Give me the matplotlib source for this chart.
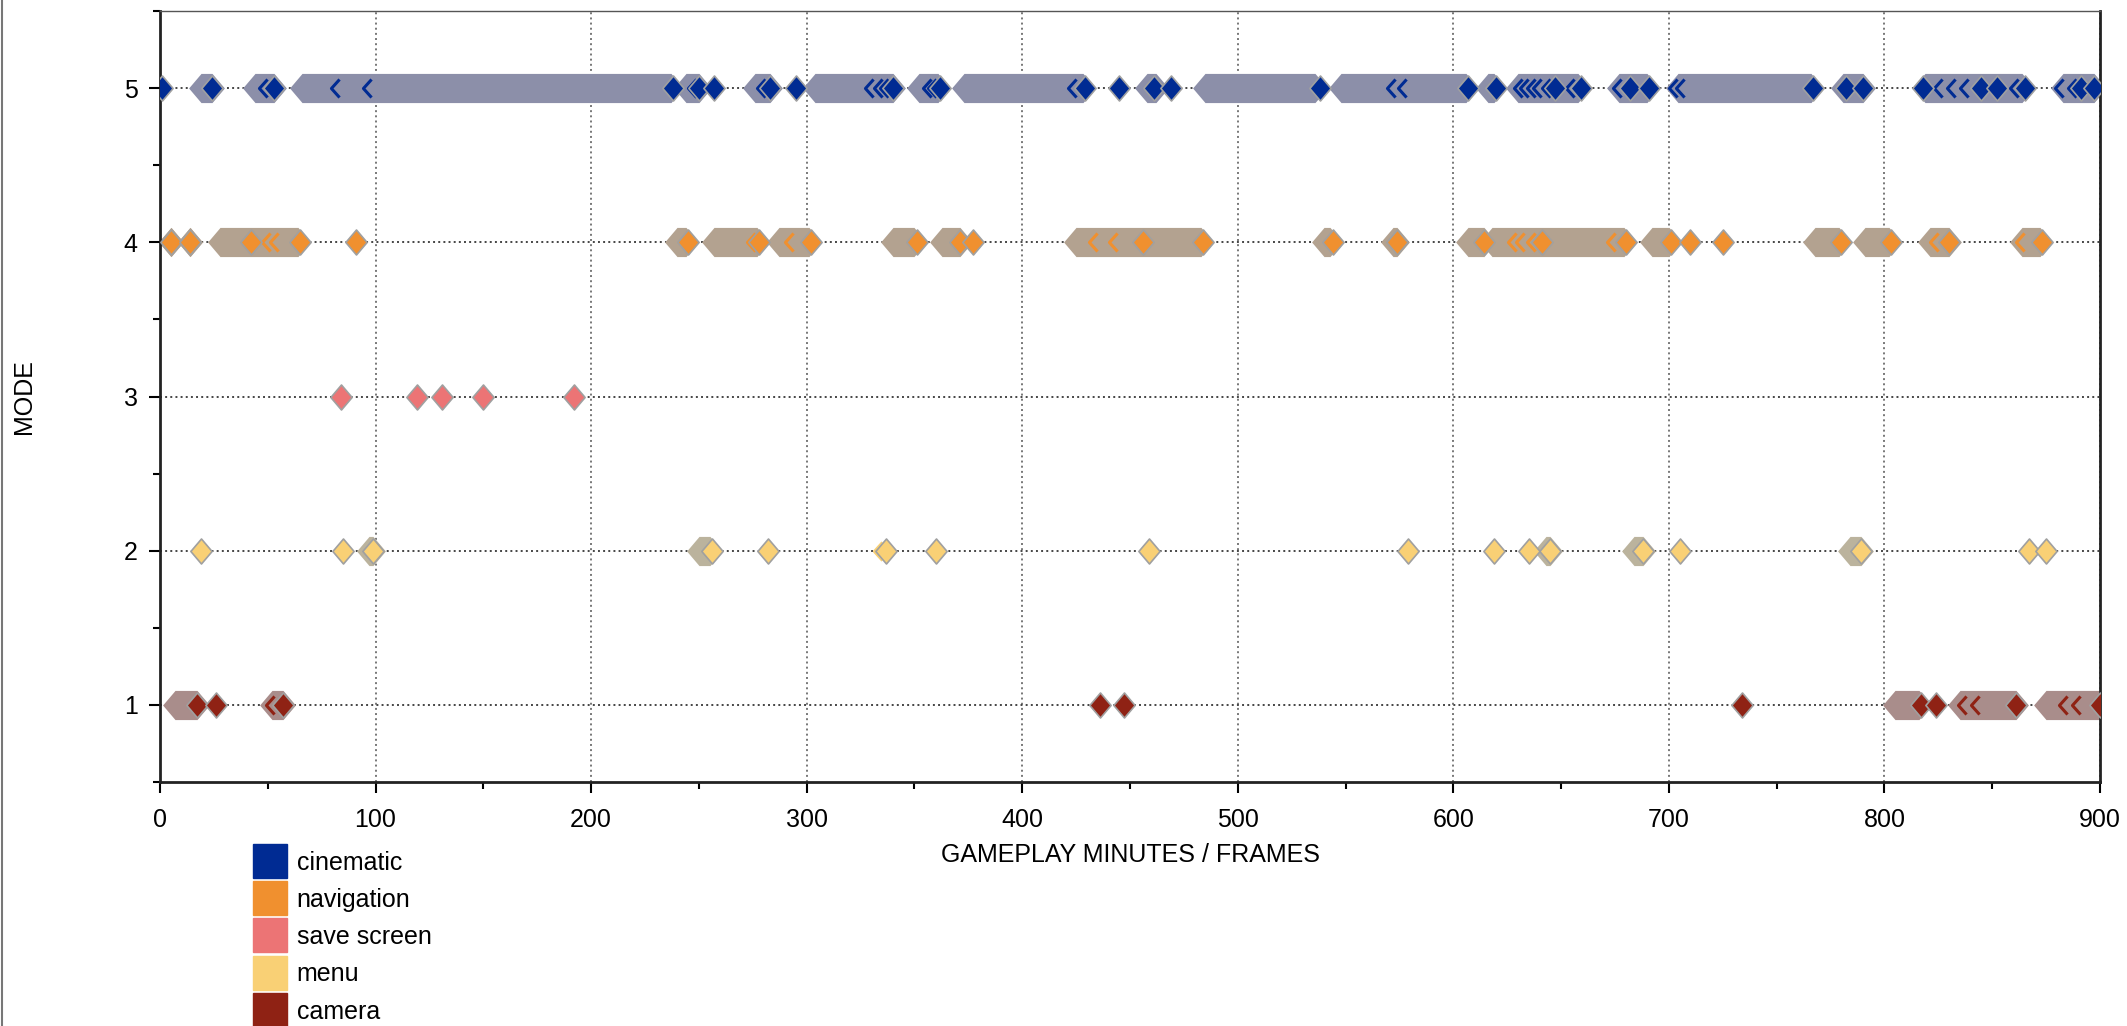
import matplotlib.pyplot as plt
from matplotlib.path import Path
from matplotlib.lines import Line2D
from matplotlib.ticker import MultipleLocator

plt.rcParams['font.family'] = ['Liberation Sans', 'DejaVu Sans']

# mode levels / categories
names = ['cinematic', 'navigation', 'save screen', 'menu', 'camera']
levels = [5, 4, 3, 2, 1]
colors = ['#002b93', '#f0902f', '#ec7475', '#f9d075', '#8f2214']
band_colors = ['#8c8fa9', '#b3a290', '#b0a0a0', '#bbb39d', '#a98d8b']

# cinematic (mode 5)
cin_band_start = [19, 44, 66, 244, 276, 304, 352, 373, 458, 485, 548, 616, 630, 677, 704, 781, 819, 883]
cin_band_end = [24, 53, 237, 250, 283, 340, 361, 428, 462, 536, 606, 619, 658, 690, 766, 790, 864, 897]
cin_points = [1, 24, 53, 238, 250, 257, 283, 295, 340, 362, 429, 445, 461, 469, 538, 607, 620,
              647, 659, 682, 691, 767, 782, 790, 818, 845, 852, 865, 891, 897]
cin_chev = [48, 81, 96, 247, 279, 329, 333, 336, 356, 358, 423, 571, 576, 630, 633, 636, 639,
            643, 654, 676, 702, 705, 825, 831, 837, 860, 881, 887]

# navigation (mode 4)
nav_band_start = [5, 14, 28, 240, 257, 287, 340, 363, 425, 540, 572, 607, 618, 692, 768, 791, 821, 864]
nav_band_end = [5, 14, 64, 244, 277, 301, 350, 371, 483, 543, 574, 614, 679, 700, 779, 802, 830, 872]
nav_points = [5, 14, 42, 65, 91, 245, 278, 302, 351, 371, 377, 456, 484, 544, 574, 614, 641, 680,
              701, 710, 725, 780, 803, 830, 873]
nav_chev = [49, 53, 274, 277, 292, 433, 442, 627, 631, 636, 673, 823, 863]

# save screen (mode 3)
save_band_start = []
save_band_end = []
save_points = [84, 119, 131, 150, 192]
save_chev = []

# menu (mode 2)
menu_band_start = [97, 250, 643, 684, 784]
menu_band_end = [99, 255, 645, 688, 789]
menu_points = [19, 85, 99, 256, 282, 337, 360, 459, 579, 619, 635, 645, 688, 705, 789, 867, 875]
menu_chev = [333]

# camera (mode 1)
cam_band_start = [7, 52, 805, 835, 875]
cam_band_end = [17, 57, 816, 861, 900]
cam_points = [17, 26, 57, 436, 447, 734, 817, 824, 861, 900]
cam_chev = [51, 836, 842, 883, 889]

band_starts = [cin_band_start, nav_band_start, save_band_start, menu_band_start, cam_band_start]
band_ends = [cin_band_end, nav_band_end, save_band_end, menu_band_end, cam_band_end]
points = [cin_points, nav_points, save_points, menu_points, cam_points]
chevs = [cin_chev, nav_chev, save_chev, menu_chev, cam_chev]

diamond = Path([(0, 1), (0.85, 0), (0, -1), (-0.85, 0), (0, 1)],
               [Path.MOVETO, Path.LINETO, Path.LINETO, Path.LINETO, Path.CLOSEPOLY])
chevron = Path([(0.45, 1), (-0.45, 0), (0.45, -1)], [Path.MOVETO, Path.LINETO, Path.LINETO])

fig = plt.figure(figsize=(21.27, 10.26), dpi=100)
ax = fig.add_axes([160 / 2127, 1 - 782 / 1026, 1940 / 2127, 771 / 1026])

for i in range(len(names)):
    y = levels[i]
    for s, e in zip(band_starts[i], band_ends[i]):
        ax.plot([s, e], [y, y], color=band_colors[i], lw=21, solid_capstyle='butt',
                marker=diamond, ms=21, mew=0, zorder=2)
    if chevs[i]:
        ax.plot(chevs[i], [y] * len(chevs[i]), ls='none', marker=chevron, ms=13,
                mfc='none', mec=colors[i], mew=2.2, zorder=3)
    ax.plot(points[i], [y] * len(points[i]), ls='none', marker=diamond, ms=18,
            mfc=colors[i], mec='#a0a0a0', mew=1.2, zorder=4)

ax.set_xlim(0, 900)
ax.set_ylim(0.5, 5.5)
ax.xaxis.set_major_locator(MultipleLocator(100))
ax.xaxis.set_minor_locator(MultipleLocator(50))
ax.yaxis.set_major_locator(MultipleLocator(1))
ax.yaxis.set_minor_locator(MultipleLocator(0.5))
ax.tick_params(which='major', length=8, width=1.5, labelsize=18, pad=8)
ax.tick_params(axis='x', which='major', pad=11)
ax.tick_params(which='minor', length=5, width=1.5)
ax.grid(True, which='major', axis='y', ls=':', color='#444444', lw=1.4)
ax.grid(True, which='major', axis='x', ls=':', color='#777777', lw=1.4)
ax.set_axisbelow(True)

for side in ['left', 'bottom', 'right']:
    ax.spines[side].set_linewidth(2)
    ax.spines[side].set_color('#222222')
ax.spines['top'].set_linewidth(1)
ax.spines['top'].set_color('#555555')

ax.set_xlabel('GAMEPLAY MINUTES / FRAMES', fontsize=18)
ax.set_ylabel('MODE', fontsize=18)
ax.xaxis.set_label_coords(0.5005, -0.095)
ax.xaxis.label.set_va('center')
ax.yaxis.set_label_coords(-0.0701, 0.5)
ax.yaxis.label.set_va('center')

handles = [Line2D([], [], ls='none', marker='s', ms=24, mfc=c, mec=c) for c in colors]
fig.legend(handles, names, loc='upper left', bbox_to_anchor=(0.113, 0.183),
           frameon=False, fontsize=18, borderpad=0, handlelength=1.4,
           handletextpad=0.35, labelspacing=0.53)

fig.add_artist(Line2D([0.0008, 0.0008], [0, 1], color='#777777', lw=1.5,
                      transform=fig.transFigure))

fig.savefig('out.png', dpi=100)
